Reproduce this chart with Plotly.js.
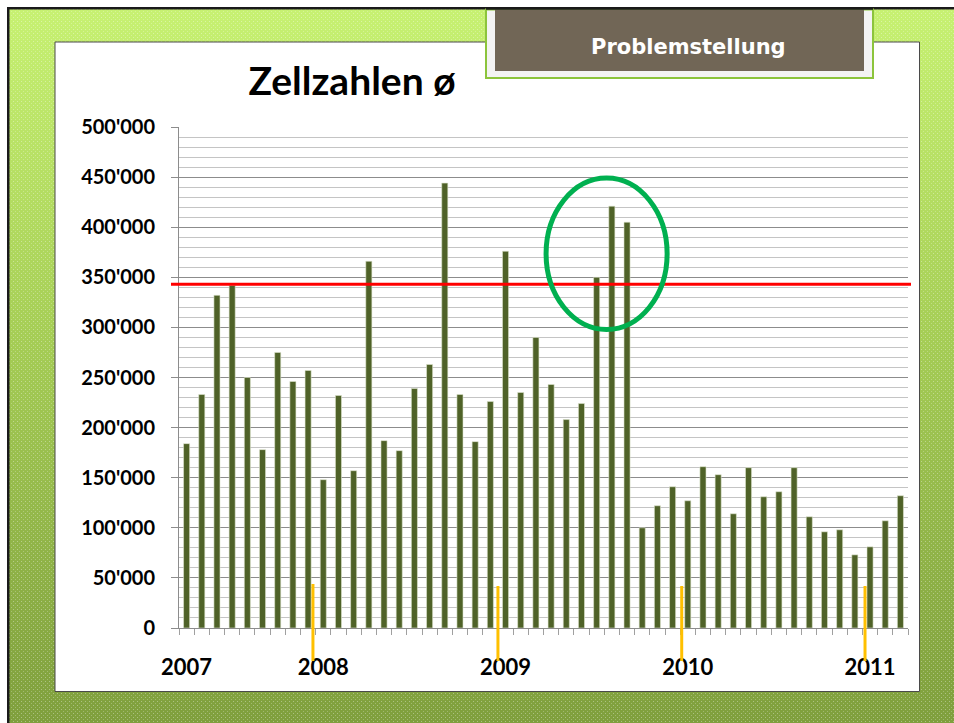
<!DOCTYPE html>
<html>
<head>
<meta charset="utf-8">
<script src="https://cdn.plot.ly/plotly-3.0.1.min.js"></script>
<style>html,body{margin:0;padding:0;background:#fff;}#chart{width:954px;height:723px;}</style>
</head>
<body>
<div id="chart"></div>
<script>
// ---- data ----
const months = [
  '2007-04','2007-05','2007-06','2007-07','2007-08','2007-09','2007-10','2007-11','2007-12',
  '2008-01','2008-02','2008-03','2008-04','2008-05','2008-06','2008-07','2008-08','2008-09','2008-10','2008-11','2008-12',
  '2009-01','2009-02','2009-03','2009-04','2009-05','2009-06','2009-07','2009-08','2009-09','2009-10','2009-11','2009-12',
  '2010-01','2010-02','2010-03','2010-04','2010-05','2010-06','2010-07','2010-08','2010-09','2010-10','2010-11','2010-12',
  '2011-01','2011-02','2011-03'
];
const cellCounts = [
  184000, 233000, 332000, 342000, 250000, 178000, 275000, 246000, 257000,
  148000, 232000, 157000, 366000, 187000, 177000, 239000, 263000, 444000, 233000, 186000, 226000,
  376000, 235000, 290000, 243000, 208000, 224000, 350000, 421000, 405000, 100000, 122000, 141000,
  127000, 161000, 153000, 114000, 160000, 131000, 136000, 160000, 111000, 96000, 98000, 73000,
  81000, 107000, 132000
];
const yearTickMonths = ['2007-04','2008-01','2009-01','2010-01','2011-01'];
const yearTickLabels = ['2007','2008','2009','2010','2011'];
const limitValue = 343000;

// ---- geometry helpers (pixel -> paper) ----
const W = 954, H = 723;
const M = {l: 179, r: 46, t: 127, b: 95};
const PW = W - M.l - M.r, PH = H - M.t - M.b;
const X = px => (px - M.l) / PW;
const Y = py => (H - M.b - py) / PH;

const tickText = months.map(m => {
  const i = yearTickMonths.indexOf(m);
  return i >= 0 ? yearTickLabels[i] : '';
});

// background gradient as svg data uri
const bgSvg = `<svg xmlns="http://www.w3.org/2000/svg" width="945" height="714">
<defs>
<linearGradient id="g" x1="0" y1="0" x2="0" y2="1">
<stop offset="0" stop-color="#c7f172"/>
<stop offset="0.45" stop-color="#a6ce56"/>
<stop offset="1" stop-color="#7f9f3d"/>
</linearGradient>
<pattern id="p" width="4" height="4" patternUnits="userSpaceOnUse">
<rect x="0" y="0" width="1" height="1" fill="#ffffff" fill-opacity="0.35"/>
<rect x="2" y="2" width="1" height="1" fill="#ffffff" fill-opacity="0.25"/>
</pattern>
</defs>
<rect width="945" height="714" fill="url(#g)"/>
<rect width="945" height="714" fill="url(#p)"/>
</svg>`;
const bgUri = 'data:image/svg+xml;base64,' + btoa(bgSvg);

const trace = {
  type: 'bar',
  x: months,
  y: cellCounts,
  marker: {color: '#4F6228', line: {color: '#dfe6d0', width: 0.6}},
  hoverinfo: 'x+y'
};

const boldFont = (size, color) => ({family: 'Lato, "Open Sans", sans-serif', size: size, color: color || '#000', weight: 'bold'});

const layout = {
  width: W, height: H,
  margin: M,
  paper_bgcolor: '#ffffff',
  plot_bgcolor: 'rgba(0,0,0,0)',
  separators: ".'",
  showlegend: false,
  bargap: 0.6,
  title: {
    text: 'Zellzahlen ø',
    font: boldFont(39),
    xref: 'paper', x: X(352), xanchor: 'center',
    yref: 'container', y: 1 - 81 / H, yanchor: 'middle'
  },
  xaxis: {
    type: 'category',
    tickmode: 'array',
    tickvals: months,
    ticktext: tickText,
    tickangle: 0,
    tickson: 'boundaries',
    ticks: 'outside', ticklen: 6, tickcolor: '#a0a0a0', tickwidth: 1,
    ticklabelstandoff: 20,
    tickfont: boldFont(22),
    showline: true, linecolor: '#8c8c8c', linewidth: 1,
    showgrid: false, zeroline: false,
    range: [-0.5, months.length - 0.5],
    fixedrange: true
  },
  yaxis: {
    range: [0, 500000],
    dtick: 50000,
    tickformat: ',d',
    ticks: 'outside', ticklen: 7, tickcolor: '#8c8c8c',
    ticklabelstandoff: 12,
    tickfont: boldFont(20),
    showline: true, linecolor: '#8c8c8c', linewidth: 1,
    showgrid: true, gridcolor: '#8c8c8c', gridwidth: 1,
    minor: {dtick: 10000, showgrid: true, gridcolor: '#c4c4c4', gridwidth: 1, ticks: ''},
    zeroline: false,
    fixedrange: true
  },
  images: [
    {source: bgUri, xref: 'paper', yref: 'paper', x: X(9), y: Y(9), sizex: 945 / PW, sizey: 714 / PH,
     xanchor: 'left', yanchor: 'top', sizing: 'stretch', layer: 'below'}
  ],
  shapes: [
    // top black line and left black line
    {type: 'rect', xref: 'paper', yref: 'paper', layer: 'below', x0: X(7), x1: X(954), y0: Y(9.5), y1: Y(7), fillcolor: '#1a1a1a', line: {width: 0}},
    {type: 'rect', xref: 'paper', yref: 'paper', layer: 'below', x0: X(7), x1: X(9.5), y0: Y(723), y1: Y(7), fillcolor: '#1a1a1a', line: {width: 0}},
    // white chart panel
    {type: 'rect', xref: 'paper', yref: 'paper', layer: 'below', x0: X(55), x1: X(919.5), y0: Y(691.5), y1: Y(42), fillcolor: '#ffffff', line: {color: '#4a4a4a', width: 1}},
    // Problemstellung box
    {type: 'rect', xref: 'paper', yref: 'paper', layer: 'below', x0: X(486), x1: X(873), y0: Y(78), y1: Y(9.5), fillcolor: '#f3f3f3', line: {color: '#8cc43c', width: 2}},
    {type: 'rect', xref: 'paper', yref: 'paper', layer: 'below', x0: X(495), x1: X(864), y0: Y(71), y1: Y(9.5), fillcolor: '#716656', line: {width: 0}},
    {type: 'line', xref: 'paper', yref: 'paper', layer: 'below', x0: X(486), x1: X(873), y0: Y(8.5), y1: Y(8.5), line: {color: '#1a1a1a', width: 2.5}},
    // red limit line
    {type: 'line', xref: 'paper', yref: 'y', layer: 'above', x0: X(171), x1: X(911), y0: limitValue, y1: limitValue, line: {color: '#ff0000', width: 3}},
    // green ellipse
    {type: 'circle', xref: 'x', yref: 'y', layer: 'above', x0: 23.67, x1: 31.64, y0: 298000, y1: 449000, line: {color: '#00B050', width: 5}},
    // orange year markers
    {type: 'line', xref: 'x', yref: 'paper', layer: 'above', x0: 8.32, x1: 8.32, y0: Y(661), y1: Y(584), line: {color: '#FFC000', width: 3}},
    {type: 'line', xref: 'x', yref: 'paper', layer: 'above', x0: 20.5, x1: 20.5, y0: Y(661), y1: Y(586), line: {color: '#FFC000', width: 3}},
    {type: 'line', xref: 'x', yref: 'paper', layer: 'above', x0: 32.6, x1: 32.6, y0: Y(661), y1: Y(586), line: {color: '#FFC000', width: 3}},
    {type: 'line', xref: 'x', yref: 'paper', layer: 'above', x0: 44.67, x1: 44.67, y0: Y(661), y1: Y(586), line: {color: '#FFC000', width: 3}}
  ],
  annotations: [
    {text: 'Problemstellung', xref: 'paper', yref: 'paper', x: X(688), y: Y(47), xanchor: 'center', yanchor: 'middle',
     showarrow: false, font: {family: '"DejaVu Sans", sans-serif', size: 21, color: '#ffffff', weight: 'bold'}}
  ]
};

Plotly.newPlot('chart', [trace], layout, {displayModeBar: false, staticPlot: true});
</script>
</body>
</html>
